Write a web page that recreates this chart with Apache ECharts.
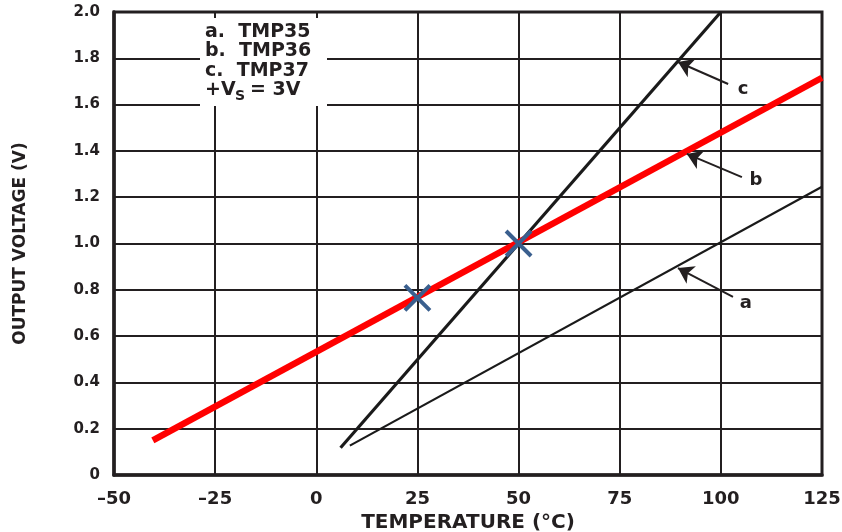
<!DOCTYPE html>
<html lang="en">
<head>
  <meta charset="UTF-8">
  <title>TMP35/36/37 output voltage</title>
  <script src="https://cdn.jsdelivr.net/npm/echarts@6/dist/echarts.min.js"></script>
  <style>
    html, body { margin: 0; padding: 0; background: #fff; }
    #main { width: 842px; height: 532px; }
  </style>
</head>
<body>
<div id="main"></div>
<script>
  // axis ranges / ticks
  var xTicks = [-50, -25, 0, 25, 50, 75, 100, 125];
  var yTicks = [0, 0.2, 0.4, 0.6, 0.8, 1.0, 1.2, 1.4, 1.6, 1.8, 2.0];

  // output voltage lines (temperature degC, volts), end points
  var tmp35 = [[8.3, 0.127], [125, 1.245]];
  var tmp36 = [[-40.4, 0.15], [125, 1.716]];
  var tmp37 = [[6.0, 0.118], [100, 2.0]];

  // blue cross markers on the TMP36 line
  var crossPts = [[25, 0.765], [50, 1.0]];

  // curve callouts: label position, arrow tail, arrow tip
  var calloutNames = ['c', 'b', 'a'];
  var calloutLabelPos = [[105.5, 1.667], [108.7, 1.274], [106.2, 0.743]];
  var calloutTail = [[101.8, 1.689], [105.2, 1.287], [103.0, 0.769]];
  var calloutTip = [[89.4, 1.784], [91.6, 1.387], [89.4, 0.894]];

  // legend box text
  var legendLines = ['a.  TMP35', 'b.  TMP36', 'c.  TMP37'];

  var ink = '#231f20';
  var fontFam = '"DejaVu Sans", sans-serif';

  var labelData = calloutNames.map(function (n, i) {
    return [calloutLabelPos[i][0], calloutLabelPos[i][1], n];
  });
  var arrowData = calloutNames.map(function (n, i) {
    return [{ coord: calloutTail[i] }, { coord: calloutTip[i] }];
  });

  var legendGraphics = [{
    type: 'rect', z: 50,
    shape: { x: 200, y: 18, width: 127, height: 88 },
    style: { fill: '#fff' }
  }];
  legendLines.forEach(function (t, i) {
    legendGraphics.push({
      type: 'text', z: 51, x: 205, y: 32 + i * 19.3,
      style: { text: t, font: 'bold 19px ' + fontFam, fill: ink, verticalAlign: 'middle', align: 'left' }
    });
  });
  legendGraphics.push({
    type: 'text', z: 51, x: 205, y: 90,
    style: { text: '+V', font: 'bold 19px ' + fontFam, fill: ink, verticalAlign: 'middle', align: 'left' }
  });
  legendGraphics.push({
    type: 'text', z: 51, x: 235, y: 96,
    style: { text: 'S', font: 'bold 14px ' + fontFam, fill: ink, verticalAlign: 'middle', align: 'left' }
  });
  legendGraphics.push({
    type: 'text', z: 51, x: 250, y: 90,
    style: { text: '= 3V', font: 'bold 19px ' + fontFam, fill: ink, verticalAlign: 'middle', align: 'left' }
  });

  var chart = echarts.init(document.getElementById('main'), null, { renderer: 'canvas' });
  var option = {
    animation: false,
    backgroundColor: '#fff',
    grid: {
      left: 114, right: 20, top: 12, bottom: 57,
      containLabel: false, outerBoundsMode: 'none',
      show: true, borderColor: ink, borderWidth: 3, backgroundColor: 'transparent'
    },
    xAxis: {
      type: 'value',
      min: xTicks[0], max: xTicks[xTicks.length - 1], interval: 25,
      name: 'TEMPERATURE (°C)',
      nameLocation: 'middle', nameGap: 35,
      nameTextStyle: { color: ink, fontFamily: fontFam, fontWeight: 'bold', fontSize: 20 },
      axisLine: { show: true, onZero: false, lineStyle: { color: ink, width: 3.5 } },
      axisTick: { show: false },
      axisLabel: {
        color: ink, fontFamily: fontFam, fontWeight: 'bold', fontSize: 18, margin: 15,
        formatter: function (v) { return String(v).replace('-', '\u2013'); }
      },
      splitLine: { show: true, lineStyle: { color: ink, width: 2 } }
    },
    yAxis: {
      type: 'value',
      min: yTicks[0], max: yTicks[yTicks.length - 1], interval: 0.2,
      name: 'OUTPUT VOLTAGE (V)',
      nameLocation: 'middle', nameGap: 85, nameRotate: 90,
      nameTextStyle: { color: ink, fontFamily: fontFam, fontWeight: 'bold', fontSize: 17 },
      axisLine: { show: true, onZero: false, lineStyle: { color: ink, width: 3.5 } },
      axisTick: { show: false },
      axisLabel: {
        color: ink, fontFamily: fontFam, fontWeight: 'bold', fontSize: 15, margin: 14,
        formatter: function (v) { return v === 0 ? '0' : v.toFixed(1); }
      },
      splitLine: { show: true, lineStyle: { color: ink, width: 2 } }
    },
    graphic: legendGraphics,
    series: [
      {
        name: 'TMP35', type: 'line', data: tmp35, showSymbol: false, z: 3,
        lineStyle: { color: '#1a1a1a', width: 2.2 }
      },
      {
        name: 'TMP37', type: 'line', data: tmp37, showSymbol: false, z: 3,
        lineStyle: { color: '#1a1a1a', width: 3.2 }
      },
      {
        name: 'TMP36', type: 'line', data: tmp36, showSymbol: false, z: 4,
        lineStyle: { color: '#ff0000', width: 6.5 }
      },
      {
        name: 'cross', type: 'scatter', data: crossPts, z: 6,
        symbol: 'path://M0,0L10,10M10,0L0,10', symbolSize: 25,
        itemStyle: { color: 'rgba(0,0,0,0)', borderColor: '#3a5f8e', borderWidth: 4, opacity: 1 }
      },
      {
        name: 'callouts', type: 'scatter', data: labelData, z: 6,
        symbolSize: 1, itemStyle: { color: 'rgba(0,0,0,0)', opacity: 1 },
        label: {
          show: true, position: 'inside', color: ink,
          fontFamily: fontFam, fontWeight: 'bold', fontSize: 18,
          formatter: function (p) { return p.value[2]; }
        },
        markLine: {
          silent: true, symbol: ['none', 'arrow'], symbolSize: 15,
          label: { show: false },
          lineStyle: { color: ink, width: 2, type: 'solid', opacity: 1 },
          itemStyle: { color: ink },
          data: arrowData
        }
      }
    ]
  };
  chart.setOption(option);
</script>
</body>
</html>
